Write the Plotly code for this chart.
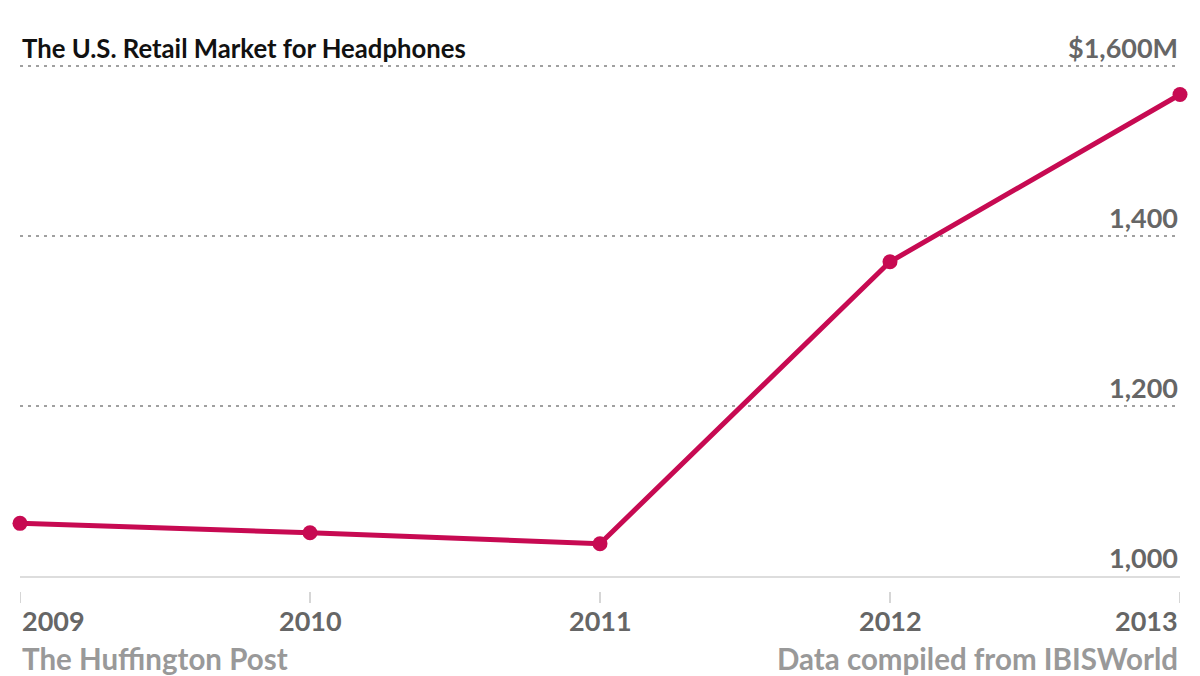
import plotly.graph_objects as go

years = [2009, 2010, 2011, 2012, 2013]
market = [1062, 1051, 1038, 1370, 1567]
y_ticks = [1000, 1200, 1400, 1600]
y_tick_labels = ["1,000", "1,200", "1,400", "$1,600M"]
title = "The U.S. Retail Market for Headphones"
source_left = "The Huffington Post"
source_right = "Data compiled from IBISWorld"

LINE = "#c70a52"
FONT = "Lato"
W, H = 1200, 676
ML, MR, MT, MB = 20, 20, 58, 100
PH = H - MT - MB
Y_TOP = 1610

def py(px):
    # convert pixel y (from top) to paper coordinate
    return (H - MB - px) / PH

fig = go.Figure()
fig.add_trace(go.Scatter(
    x=years, y=market, mode="lines+markers",
    line=dict(color=LINE, width=5),
    marker=dict(color=LINE, size=15),
    cliponaxis=False, hoverinfo="x+y", showlegend=False,
))

annotations = []
annotations.append(dict(
    text=f"<b>{title}</b>", xref="paper", yref="paper", x=0, y=py(48),
    xanchor="left", yanchor="middle", showarrow=False,
    font=dict(family=FONT, size=25.7, color="#111"),
))
for v, lab in zip(y_ticks, y_tick_labels):
    annotations.append(dict(
        text=f"<b>{lab}</b>", xref="paper", yref="y", x=1, y=v,
        xanchor="right", yanchor="bottom", yshift=0, showarrow=False,
        font=dict(family=FONT, size=27, color="#666"),
    ))
for i, yr in enumerate(years):
    anchor = "left" if i == 0 else ("right" if i == len(years) - 1 else "center")
    annotations.append(dict(
        text=f"<b>{yr}</b>", xref="x", yref="paper", x=yr, y=py(620),
        xanchor=anchor, yanchor="middle", showarrow=False,
        font=dict(family=FONT, size=27, color="#666"),
    ))
annotations.append(dict(
    text=f"<b>{source_left}</b>", xref="paper", yref="paper", x=0, y=py(658),
    xanchor="left", yanchor="middle", showarrow=False,
    font=dict(family=FONT, size=29.5, color="#999"),
))
annotations.append(dict(
    text=f"<b>{source_right}</b>", xref="paper", yref="paper", x=1, y=py(658),
    xanchor="right", yanchor="middle", showarrow=False,
    font=dict(family=FONT, size=29.5, color="#999"),
))

shapes = []
for yr in years:
    shapes.append(dict(
        type="line", xref="x", yref="paper", x0=yr, x1=yr, y0=py(592), y1=py(603),
        line=dict(color="#d6d6d6", width=2),
    ))

fig.update_layout(
    width=W, height=H,
    margin=dict(l=ML, r=MR, t=MT, b=MB),
    paper_bgcolor="white", plot_bgcolor="white",
    xaxis=dict(range=[years[0], years[-1]], showgrid=False, zeroline=False,
               showticklabels=False, ticks="", showline=True,
               linecolor="#dddddd", linewidth=2),
    yaxis=dict(range=[y_ticks[0], Y_TOP], tickvals=y_ticks[1:],
               showticklabels=False, showgrid=True, gridcolor="#a0a0a0",
               gridwidth=2, griddash="3px,5px", zeroline=False, showline=False),
    annotations=annotations, shapes=shapes,
)

fig.write_html("out.html")
